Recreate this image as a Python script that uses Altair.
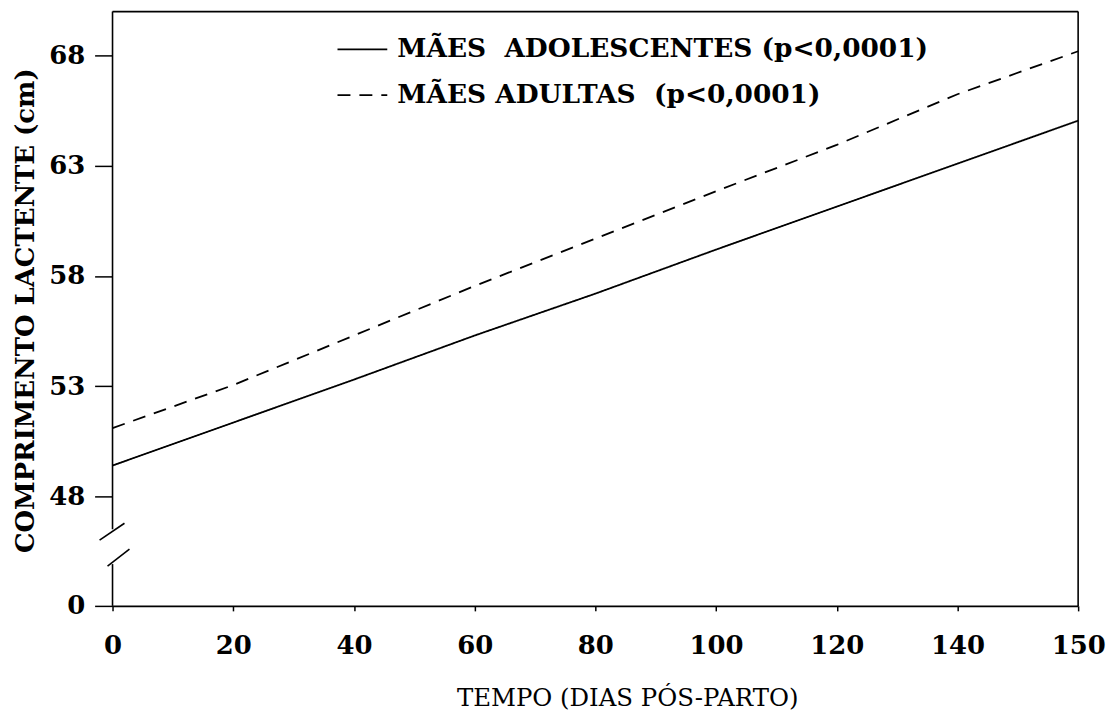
import altair as alt
import pandas as pd

# ---- data ----
days = [0, 20, 40, 60, 80, 100, 120, 140, 150]
adolescentes = [49.4, 51.35, 53.3, 55.3, 57.2, 59.2, 61.15, 63.1, 65.05]
adultas = [51.1, 53.05, 55.3, 57.55, 59.7, 61.85, 63.95, 66.25, 68.2]
series_names = ["MÃES\u00a0 ADOLESCENTES (p<0,0001)", "MÃES ADULTAS\u00a0 (p<0,0001)"]
x_ticks = [0, 20, 40, 60, 80, 100, 120, 140, 150]
y_ticks = [0, 48, 53, 58, 63, 68]

rows = []
for d, a, b in zip(days, adolescentes, adultas):
    rows.append({"dia": d, "comprimento": a, "grupo": series_names[0]})
    rows.append({"dia": d, "comprimento": b, "grupo": series_names[1]})
df = pd.DataFrame(rows)

FONT = "DejaVu Serif"
W, H = 970, 597

lines = alt.Chart(df).mark_line(color="black", strokeWidth=1.8).encode(
    x=alt.X(
        "dia:Q",
        scale=alt.Scale(domain=[0, 140, 150], range=[0, W * 140 / 160, W], nice=False, zero=False),
        axis=alt.Axis(
            values=x_ticks, grid=False, title="TEMPO (DIAS PÓS-PARTO)",
            tickSize=5, tickWidth=1.5, tickColor="black",
            domainColor="black", domainWidth=1.6,
            labelFont=FONT, labelFontSize=26, labelFontWeight="bold", labelColor="black",
            labelPadding=22, labelFlush=False, labelOverlap=False,
            titleFont=FONT, titleFontSize=24.5, titleFontWeight="normal", titleColor="black",
            titleX=517, titleY=93, titleBaseline="middle", titleAlign="center",
        ),
    ),
    y=alt.Y(
        "comprimento:Q",
        scale=alt.Scale(domain=[0, 48, 70], range=[H, 487, 0], nice=False, zero=False),
        axis=alt.Axis(
            values=y_ticks, grid=False, domain=False, title="COMPRIMENTO LACTENTE (cm)",
            tickSize=18, tickWidth=1.5, tickColor="black",
            labelFont=FONT, labelFontSize=26, labelFontWeight="bold", labelColor="black",
            labelPadding=10, labelFlush=False, labelOverlap=False,
            titleFont=FONT, titleFontSize=26, titleFontWeight="bold", titleColor="black",
            titleX=-87, titleY=300, titleAngle=270, titleBaseline="middle", titleAlign="center",
        ),
    ),
    strokeDash=alt.StrokeDash(
        "grupo:N",
        scale=alt.Scale(domain=series_names, range=[[1, 0], [13, 9]]),
        legend=alt.Legend(
            orient="none", legendX=225, legendY=12, title=None, padding=0,
            symbolType="stroke", symbolSize=2500, symbolStrokeWidth=1.8,
            symbolStrokeColor="black",
            labelFont=FONT, labelFontSize=26.5, labelFontWeight="bold", labelColor="black",
            labelOffset=9, labelLimit=900, rowPadding=6,
        ),
    ),
)

one = pd.DataFrame({"k": [0]})


def seg(x1, x2, y1, y2):
    return alt.Chart(one).mark_rule(color="black", strokeWidth=1.6).encode(
        x=alt.value(x1), x2=alt.value(x2), y=alt.value(y1), y2=alt.value(y2)
    )


decor = [
    seg(0, W, 0, 0),          # top frame
    seg(W, W, 0, H),          # right frame
    seg(0, 0, 0, 520),        # y axis upper part
    seg(0, 0, 555, H),        # y axis lower part
    seg(-13, 12, 531, 514),   # break slash
    seg(-5, 17, 557, 540),    # break slash
]

chart = alt.layer(lines, *decor).properties(
    width=W, height=H,
    autosize=alt.AutoSizeParams(type="none"),
    padding={"left": 105, "top": 2, "right": 30, "bottom": 110},
    background="white",
).configure_view(strokeWidth=0)

chart.save("out.html", embed_options={"renderer": "svg", "actions": False})
